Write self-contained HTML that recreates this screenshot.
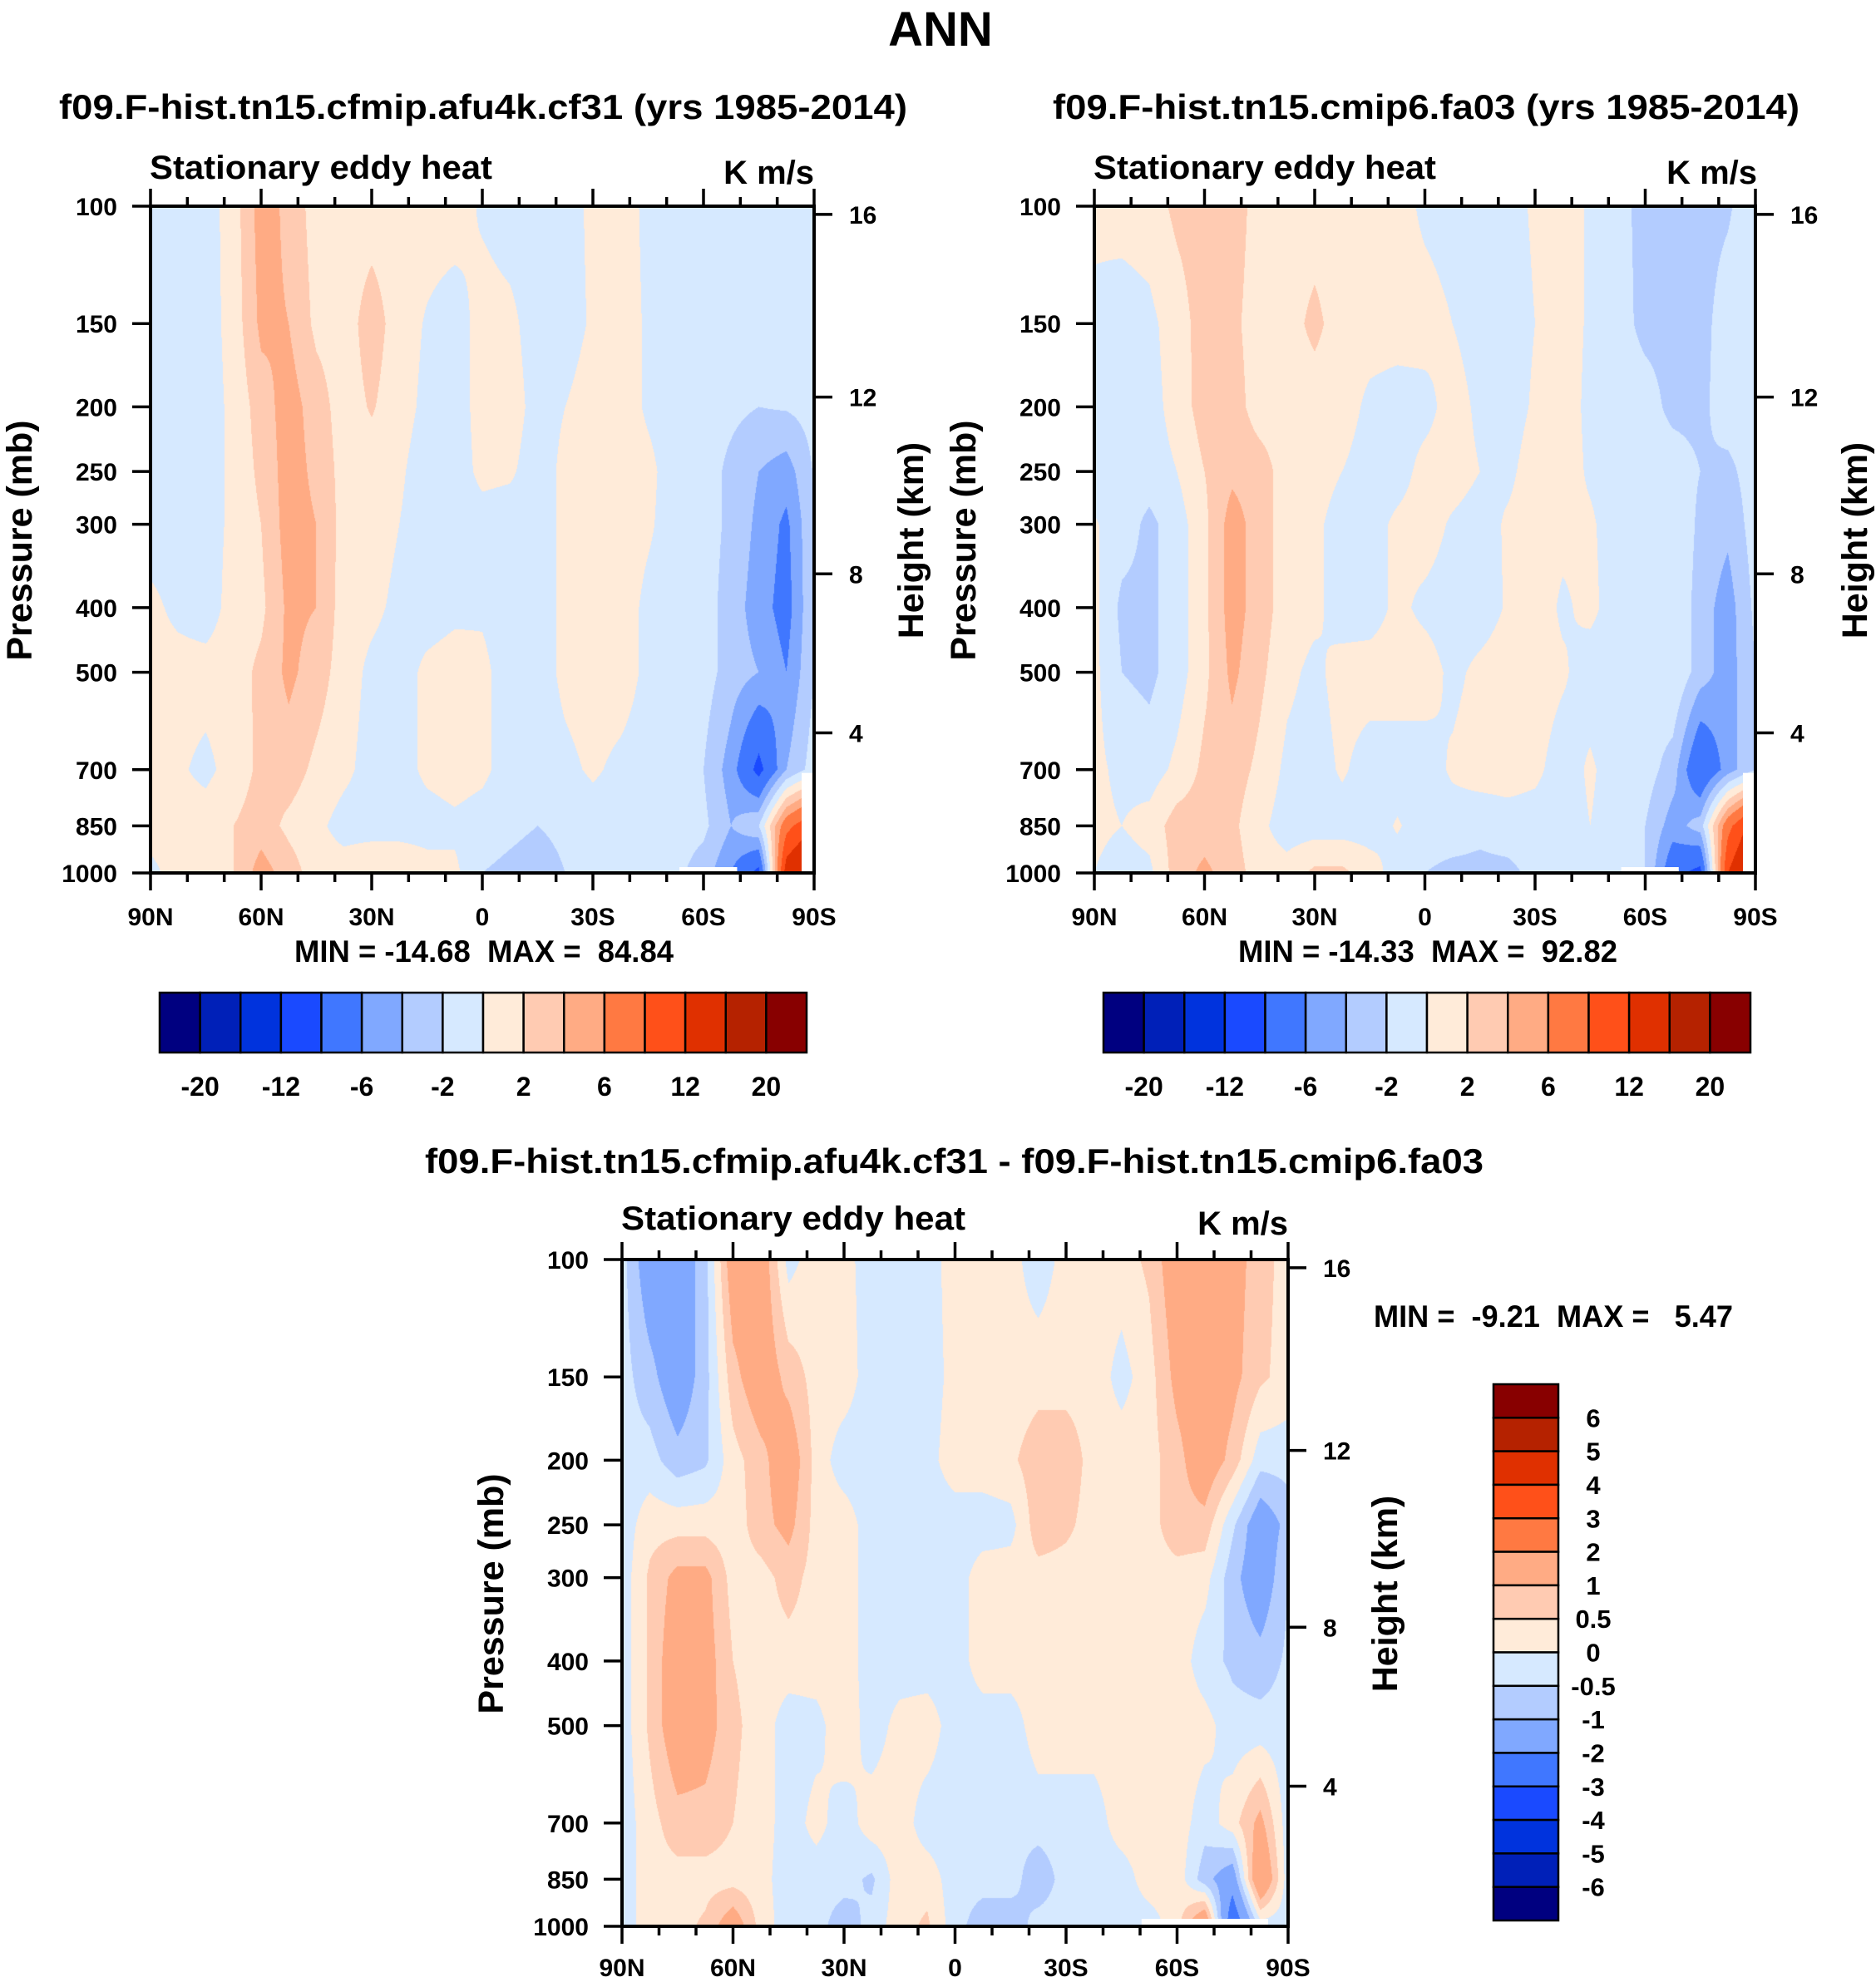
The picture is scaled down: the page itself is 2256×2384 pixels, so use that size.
<!DOCTYPE html>
<html><head><meta charset="utf-8">
<style>
body{margin:0;width:2256px;height:2384px;background:#fff;position:relative;overflow:hidden;font-family:"Liberation Sans",Arial,sans-serif}
canvas{position:absolute}
svg{position:absolute;left:0;top:0}
text{font-family:"Liberation Sans",Arial,sans-serif;font-weight:bold;fill:#000}
</style></head>
<body>
<canvas id="c1" style="left:181px;top:248px" width="798" height="802"></canvas>
<canvas id="c2" style="left:1316px;top:248px" width="795" height="802"></canvas>
<canvas id="c3" style="left:748px;top:1515px" width="801" height="802"></canvas>
<svg id="ov" width="2256" height="2384">
<text x="1131" y="55" font-size="58" text-anchor="middle">ANN</text>
<text x="71" y="143" font-size="42" textLength="1020" lengthAdjust="spacingAndGlyphs">f09.F-hist.tn15.cfmip.afu4k.cf31 (yrs 1985-2014)</text>
<text x="1266" y="143" font-size="42" textLength="898" lengthAdjust="spacingAndGlyphs">f09.F-hist.tn15.cmip6.fa03 (yrs 1985-2014)</text>
<text x="511" y="1411" font-size="42" textLength="1273" lengthAdjust="spacingAndGlyphs">f09.F-hist.tn15.cfmip.afu4k.cf31 - f09.F-hist.tn15.cmip6.fa03</text>
<text x="180" y="215" font-size="40" textLength="412" lengthAdjust="spacingAndGlyphs">Stationary eddy heat</text>
<text x="979" y="221" font-size="40" text-anchor="end">K m/s</text>
<text x="1315" y="215" font-size="40" textLength="412" lengthAdjust="spacingAndGlyphs">Stationary eddy heat</text>
<text x="2113" y="221" font-size="40" text-anchor="end">K m/s</text>
<text x="747" y="1479" font-size="40" textLength="414" lengthAdjust="spacingAndGlyphs">Stationary eddy heat</text>
<text x="1549" y="1485" font-size="40" text-anchor="end">K m/s</text>
<text x="354" y="1157" font-size="37" textLength="456" lengthAdjust="spacingAndGlyphs" xml:space="preserve">MIN = -14.68  MAX =  84.84</text>
<text x="1489" y="1157" font-size="37" textLength="456" lengthAdjust="spacingAndGlyphs" xml:space="preserve">MIN = -14.33  MAX =  92.82</text>
<text x="1652" y="1596" font-size="37" textLength="432" lengthAdjust="spacingAndGlyphs" xml:space="preserve">MIN =  -9.21  MAX =   5.47</text>
<text transform="translate(38,650) rotate(-90)" font-size="43" text-anchor="middle">Pressure (mb)</text>
<text transform="translate(1110,650) rotate(-90)" font-size="43" text-anchor="middle">Height (km)</text>
<text transform="translate(1173,650) rotate(-90)" font-size="43" text-anchor="middle">Pressure (mb)</text>
<text transform="translate(2245,650) rotate(-90)" font-size="43" text-anchor="middle">Height (km)</text>
<text transform="translate(605,1917) rotate(-90)" font-size="43" text-anchor="middle">Pressure (mb)</text>
<text transform="translate(1680,1917) rotate(-90)" font-size="43" text-anchor="middle">Height (km)</text>
</svg>
<script>
// ---- data: values at latitudes 90N..90S every 7.5 deg, per pressure level ----
const lats = [90,82.5,75,67.5,60,52.5,45,37.5,30,22.5,15,7.5,0,-7.5,-15,-22.5,-30,-37.5,-45,-52.5,-60,-67.5,-75,-82.5,-90];
const levels = [100,150,200,250,300,400,500,700,850,1000];
// cf31
const cf31_100 = [-1,-1,-1,1,5,3.5,1,1,1,1,1,1,-0.3,-1,-1,-1,0.5,1,-0.5,-1,-1,-1.5,-1,-1,-1];
const cf31_150 = [-1,-1,-1,0.8,4.5,4,1.5,1,3,1,-0.2,-1,0.8,0.5,-1,-1,0.3,1,-0.3,-1,-1,-1,-1,-1,-1];
const cf31_200 = [-1,-1,-1,0.5,3,5,3,1,2.2,0.8,-0.5,-1,0.8,1,-0.8,0,1,1,-0.3,-1,-1.2,-1.5,-2,-1.8,-1.2];
const cf31_250 = [-1,-1,-1,0.5,2.5,5,3.5,1.2,1,0.3,-1,-1,0.5,0.3,-1,0.5,1,1,0.5,-1,-1,-2.5,-4,-5,-1.8];
const cf31_300 = [-1,-1,-1,0.5,2,5,4,1.2,1,0,-1,-1,-0.8,-1,-1,0.5,1,1,0.3,-1,-1,-2.5,-4.5,-6.5,-2];
const cf31_400 = [0.5,-0.5,-1,0.8,1.5,4.5,4,1,0.5,-0.5,-1,-0.5,-0.3,-1,-1,0.5,1,1,-0.5,-1,-1,-3,-5,-7,-2];
const cf31_500 = [0.8,0.8,0.8,1,2.5,4.5,3,1,-0.5,-1,0.5,1,0.5,-1,-1,0.5,1,1,-0.5,-1,-1,-3,-4,-6,-2];
const cf31_700 = [0.6,0.3,-0.5,0.8,2.5,3,1.5,0.5,-0.8,-1,0.5,1,0.5,-1,-1,-0.5,0.3,-0.5,-1,-1,-2,-5,-10,-4,-1];
const cf31_850 = [0.8,0.8,1,2,3,1.5,0.5,-0.8,-1,-1,-1,-0.5,-1,-1.5,-2,-1.5,-1,-1,-1,-1,-1.5,-4,-2,8,12];
const cf31_1000 = [-0.5,0.8,1,2,5,3,1,1,2,2,1,0.5,-2,-2.5,-3,-2,-1,-1,-1,-1.5,-3,-6,-10,14,18];
// fa03
const fa03_100 = [0.5,0.8,1,2.5,3,3,1.2,1,1,1,1,1,-0.5,-1,-1,-0.8,0.3,1,-0.3,-1.5,-2.5,-2.5,-2.5,-2.2,-1];
const fa03_150 = [-0.5,-1,-0.5,1,3,2.5,1,1.2,2.5,1,1,1,1,0,-1,-1,0,1,-0.3,-1.3,-2.5,-2.5,-2.5,-1.3,-1];
const fa03_200 = [-1,-1,-0.8,0.8,3,3,1,1,1,1,-0.5,-1,-0.8,1,-0.5,-1,0.3,1,-0.5,-1,-1.2,-2.5,-2.5,-1,-1];
const fa03_250 = [-1,-1,-1,0,2,3.5,3,1,1,0,-1,-1,0.8,1,0,-0.5,1,1,-0.3,-1,-1,-1,-2,-2.5,-1];
const fa03_300 = [0.2,-1,-2.5,-1,1.5,5,3,1,0.5,-1,-1,0.5,1,-0.3,-1,0.3,1,0.5,0.3,-1,-1,0,-2.5,-3.5,-1];
const fa03_400 = [0.5,-2.5,-2.5,-1,1.5,5,3,1,0.5,-1,-1,0.5,-0.5,-1,-1,0.2,1,-0.3,0.5,-1,-1,0,-3,-5,-1.5];
const fa03_500 = [0.5,-2,-2.5,-1,1.5,4.5,2.5,0.5,-0.5,0.8,1,1,1,-0.5,0.5,1,1,0.3,-1,-1,-1,0,-3,-5,-2];
const fa03_700 = [0.5,-0.5,-1,0.5,2.5,3,1.5,-0.5,-1,0.3,-1,-1,-1,0.3,1,1,0.5,-1,0.3,-1,-1,-3,-9,-5,-2];
const fa03_850 = [0.5,0,0.8,3,3,2.5,0.5,-1,-1,-1,-1,0.2,-1,-1,-1.5,-1,-1,-1,0,-1,-2,-5,-3,8,14];
const fa03_1000 = [0,-1,-0.5,3,4.5,3,1,0.8,2.5,2.5,1,-1,-2,-2.5,-2.5,-2.5,-1.5,-1,-1,-1,-2,-8,-10,12,18];
// difference
const diff_100 = [-0.3,-1.5,-1.5,-0.7,1.5,1.5,-0.2,0.3,0.2,-0.3,-0.3,-0.3,0.3,0.3,0.2,-0.3,0.2,0.3,0.3,0.6,1.5,1.6,1.3,0.7,0.3];
const diff_150 = [-0.3,-0.8,-1.5,-0.7,0.8,1.5,0.8,0.3,0.3,-0.3,-0.3,-0.3,0.2,0.3,0.2,0.3,0.3,0.3,-0.2,0.3,1.2,1.5,1.2,0.6,0.3];
const diff_200 = [-0.3,-0.3,-0.8,-0.6,0.3,0.8,1.5,0.3,-0.3,-0.3,-0.3,-0.2,0.3,0.3,0.4,0.8,0.8,0.3,0.3,0.3,0.8,1.5,0.8,-0.3,-0.3];
const diff_250 = [-0.3,0.3,0.3,0.3,0.2,0.8,1.2,0.3,0.3,-0.3,-0.3,-0.3,-0.3,-0.3,-0.2,0.8,0.6,0.3,0.3,0.3,0.8,0.8,-0.4,-1.5,-0.8];
const diff_300 = [-0.3,0.6,1.2,1.2,0.3,0.3,0.7,0.3,0.3,-0.3,-0.3,-0.3,-0.3,0.3,0.3,0.3,0.3,0.3,0.3,0.3,0.3,0.2,-0.8,-1.5,-0.5];
const diff_400 = [-0.3,0.6,1.5,1.3,0.5,0.3,0.3,0.3,0.3,-0.3,-0.3,-0.3,-0.3,0.3,0.3,0.3,0.3,0.3,0.3,0.3,0.3,-0.3,-0.6,-0.8,-0.4];
const diff_500 = [-0.3,0.6,1.5,1.3,0.6,0.3,-0.3,-0.2,0.4,-0.3,0.2,0.3,-0.3,-0.3,-0.3,0.3,0.3,0.3,0.3,0.3,0.3,0.2,-0.3,-0.3,-0.3];
const diff_700 = [-0.3,0.3,0.8,0.8,0.5,0.3,-0.3,0.2,-0.3,0.3,0.3,-0.3,-0.3,-0.3,-0.4,-0.3,-0.3,-0.3,0.3,0.3,0.3,-0.3,0.3,1.2,-0.3];
const diff_850 = [-0.3,0.3,0.3,0.3,0.3,0.2,-0.3,-0.3,-0.3,-0.6,0.3,0.3,-0.3,-0.3,-0.3,-0.8,-0.3,-0.3,-0.3,0.3,0.3,-0.8,-1.5,2,-0.3];
const diff_1000 = [-0.3,0.3,0.3,0.6,1.5,0.3,-0.3,-0.3,-0.8,-0.3,0.3,0.6,-0.3,-0.8,-0.8,-0.3,-0.3,-0.3,-0.3,-0.3,0.3,2,-3,-0.3,-0.3];
// contour levels & tick labels
const fieldLevels = [-20,-16,-12,-9,-6,-4,-2,0,2,4,6,9,12,16,20];
const diffLevels = [-6,-5,-4,-3,-2,-1,-0.5,0,0.5,1,2,3,4,5,6];
const fieldBarLabels = ["-20","-12","-6","-2","2","6","12","20"];
const diffBarLabels = ["6","5","4","3","2","1","0.5","0","-0.5","-1","-2","-3","-4","-5","-6"];
const latTicks = [90,60,30,0,-30,-60,-90];
const latTickLabels = ["90N","60N","30N","0","30S","60S","90S"];
const heightTicks = [16,12,8,4];
const palette = ["#000080","#0020b8","#0033dd","#1a4aff","#4077ff","#80a8ff","#b3ccff","#d6e9ff","#ffebd9","#ffcbb2","#ffab84","#ff7942","#ff5019","#e03000","#b52200","#880000"];

const gridA = [cf31_100,cf31_150,cf31_200,cf31_250,cf31_300,cf31_400,cf31_500,cf31_700,cf31_850,cf31_1000];
const gridB = [fa03_100,fa03_150,fa03_200,fa03_250,fa03_300,fa03_400,fa03_500,fa03_700,fa03_850,fa03_1000];
const gridC = [diff_100,diff_150,diff_200,diff_250,diff_300,diff_400,diff_500,diff_700,diff_850,diff_1000];

const panels = [
 {id:'c1',name:'cf31',x:181,y:248,w:798,h:802,grid:gridA,lev:fieldLevels},
 {id:'c2',name:'fa03',x:1316,y:248,w:795,h:802,grid:gridB,lev:fieldLevels},
 {id:'c3',name:'diff',x:748,y:1515,w:801,h:802,grid:gridC,lev:diffLevels}
];
const NS='http://www.w3.org/2000/svg';
const ov=document.getElementById('ov');
function hex(c){return [parseInt(c.slice(1,3),16),parseInt(c.slice(3,5),16),parseInt(c.slice(5,7),16)];}
const rgb=palette.map(hex);
const logLev=levels.map(p=>Math.log10(p));
function xScale(P,lat){return P.x+P.w*(90-lat)/180;}
function yScale(P,p){return P.y+P.h*(Math.log10(p)-2);}
function pOfZ(km){const z=km*1000;if(z<=11000)return 1013.25*Math.pow(1-0.0065*z/288.15,5.25588);return 226.32*Math.exp(-0.000157688*(z-11000));}

function render(P){
 const cv=document.getElementById(P.id),ctx=cv.getContext('2d');
 const img=ctx.createImageData(P.w,P.h),d=img.data;
 const n=lats.length;
 for(let py=0;py<P.h;py++){
  const lp=2+(py+0.5)/P.h;
  let j=0;while(j<logLev.length-2&&lp>logLev[j+1])j++;
  let t=(lp-logLev[j])/(logLev[j+1]-logLev[j]);t=Math.max(0,Math.min(1,t));
  const r0=P.grid[j],r1=P.grid[j+1];
  for(let px=0;px<P.w;px++){
   const lat=90-180*(px+0.5)/P.w;
   let fi=(90-lat)/7.5;let i=Math.floor(fi);if(i>=n-1)i=n-2;const s=fi-i;
   const v=(r0[i]*(1-s)+r0[i+1]*s)*(1-t)+(r1[i]*(1-s)+r1[i+1]*s)*t;
   let k=0;while(k<P.lev.length&&v>P.lev[k])k++;
   const c=rgb[k],o=(py*P.w+px)*4;
   d[o]=c[0];d[o+1]=c[1];d[o+2]=c[2];d[o+3]=255;
  }
 }
 ctx.putImageData(img,0,0);
}
function el(tag,attrs,txt){const e=document.createElementNS(NS,tag);for(const k in attrs)e.setAttribute(k,attrs[k]);if(txt!==undefined)e.textContent=txt;ov.appendChild(e);return e;}

function axes(P){
 let e;
 if(P.name!=='diff'){
  e=el('rect',{x:P.x+P.w-15,y:P.y+P.h*0.85,width:15,height:P.h*0.15,fill:'#fff'});
  
  
  e=el('rect',{x:P.x+P.w*0.797,y:P.y+P.h-7,width:P.w*0.087,height:7,fill:'#fff'});
  
  
 } else {
  e=el('rect',{x:P.x+P.w*0.78,y:P.y+P.h-9,width:P.w*0.19,height:9,fill:'#fff'});
  
  
 }
 e=el('rect',{x:P.x,y:P.y,width:P.w,height:P.h,fill:'none',stroke:'#000','stroke-width':4});
 
 
 for(let lat=90;lat>=-90;lat-=10){
  const major=(lat%30===0);const x=xScale(P,lat);const L=major?21:11;
  e=el('line',{x1:x,x2:x,y1:P.y,y2:P.y-L,stroke:'#000','stroke-width':3.5});
  
  
  e=el('line',{x1:x,x2:x,y1:P.y+P.h,y2:P.y+P.h+L,stroke:'#000','stroke-width':3.5});
  
  
 }
 latTicks.forEach((lat,k)=>{
  const t=el('text',{x:xScale(P,lat),y:P.y+P.h+(P.name==='diff'?60:63),'font-size':30,'text-anchor':'middle'},latTickLabels[k]);
  
  
 });
 levels.forEach(p=>{
  const y=yScale(P,p);
  e=el('line',{x1:P.x-22,x2:P.x,y1:y,y2:y,stroke:'#000','stroke-width':3.5});
  
  
  const t=el('text',{x:P.x-40,y:y+11,'font-size':30,'text-anchor':'end'},String(p));
  
  
 });
 heightTicks.forEach(km=>{
  const y=yScale(P,pOfZ(km));
  e=el('line',{x1:P.x+P.w,x2:P.x+P.w+22,y1:y,y2:y,stroke:'#000','stroke-width':3.5});
  
  
  const t=el('text',{x:P.x+P.w+42,y:y+11,'font-size':30},String(km));
  
  
 });
}
function hbar(x0,y0,w,h,labels,name){
 const bw=w/16;
 palette.forEach((c,k)=>{
  const r=el('rect',{x:x0+k*bw,y:y0,width:bw,height:h,fill:c,stroke:'#000','stroke-width':2.5});
  
  
 });
 labels.forEach((s,k)=>{
  const t=el('text',{x:x0+(2*k+1)*bw,y:y0+h+52,'font-size':32,'text-anchor':'middle'},s);
  
  
 });
}
function vbar(x0,y0,w,h,labels,name){
 const bh=h/16;
 palette.slice().reverse().forEach((c,k)=>{
  const r=el('rect',{x:x0,y:y0+k*bh,width:w,height:bh,fill:c,stroke:'#000','stroke-width':2.5});
  
  
 });
 labels.forEach((s,k)=>{
  const t=el('text',{x:x0+w+42,y:y0+(k+1)*bh+11,'font-size':31,'text-anchor':'middle'},s);
  
  
 });
}
panels.forEach(P=>{render(P);axes(P);});
hbar(192,1194,778,72,fieldBarLabels,'left-colorbar');
hbar(1327,1194,778,72,fieldBarLabels,'right-colorbar');
vbar(1796,1665,78,645,diffBarLabels,'diff-colorbar');
</script>
</body></html>
